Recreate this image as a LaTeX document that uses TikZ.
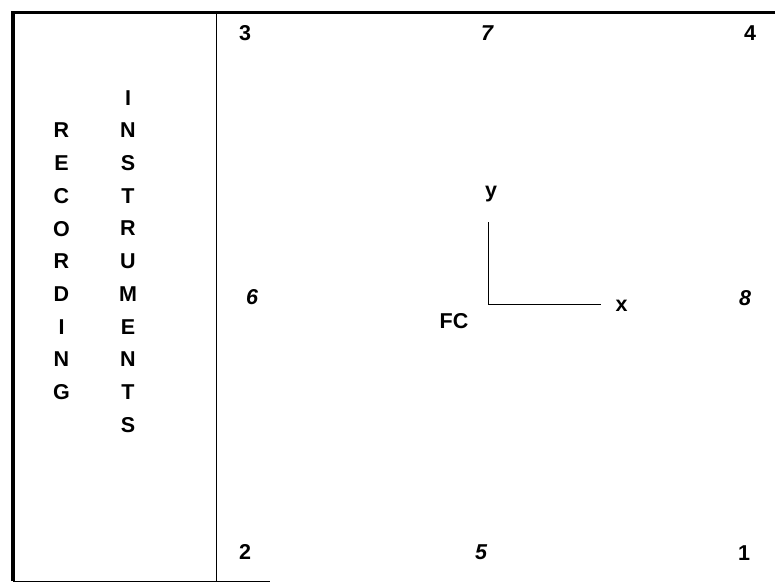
\documentclass[tikz,border=0pt]{standalone}
\usepackage{fontspec}
\setmainfont{Liberation Sans}
\begin{document}
\begin{tikzpicture}[x=1pt,y=-1pt,
  lbl/.style={inner sep=0pt,font=\fontsize{21.5}{24}\selectfont\bfseries},
  ilbl/.style={inner sep=0pt,font=\fontsize{21.5}{24}\selectfont\bfseries\itshape},
  num/.style={lbl},
  frame/.style={line width=3.5pt},
  thin/.style={line width=1pt}]
\useasboundingbox (0,0) rectangle (775,583);
% frame
\coordinate (tl) at (13,12.5);
\coordinate (tr) at (775,12.5);
\coordinate (bl) at (13,581);
\coordinate (br) at (270,581);
\coordinate (dt) at (216,12.5);
\coordinate (db) at (216,581);
\draw[frame] (bl) -- (tl) -- (tr);
\draw[thin] (bl) -- (br);
\draw[thin] (dt) -- (db);
% left column texts
\foreach \c [count=\i from 0] in {R,E,C,O,R,D,I,N,G}
  \node[lbl] (rec\i) at (61.5,130.5+32.7*\i) {\c};
\foreach \c [count=\i from 0] in {I,N,S,T,R,U,M,E,N,T,S}
  \node[lbl] (ins\i) at (128,97.8+32.7*\i) {\c};
% corner and side labels
\node[num] (n3) at (245,33) {3};
\node[ilbl] (n7) at (487,33) {7};
\node[num] (n4) at (750,33) {4};
\node[ilbl] (n6) at (252,297) {6};
\node[ilbl] (n8) at (745,298) {8};
\node[num] (n2) at (245,552) {2};
\node[ilbl] (n5) at (481,552) {5};
\node[num] (n1) at (744,553) {1};
% axes
\coordinate (o) at (488,304);
\coordinate (ytop) at (488,222);
\coordinate (xend) at (601,304);
\draw[thin] (ytop) -- (o) -- (xend);
\node[lbl] (ylab) at (491,194) {y};
\node[lbl] (xlab) at (621.5,306) {x};
\node[lbl] (fc) at (454,321.5) {FC};
\end{tikzpicture}
\end{document}
